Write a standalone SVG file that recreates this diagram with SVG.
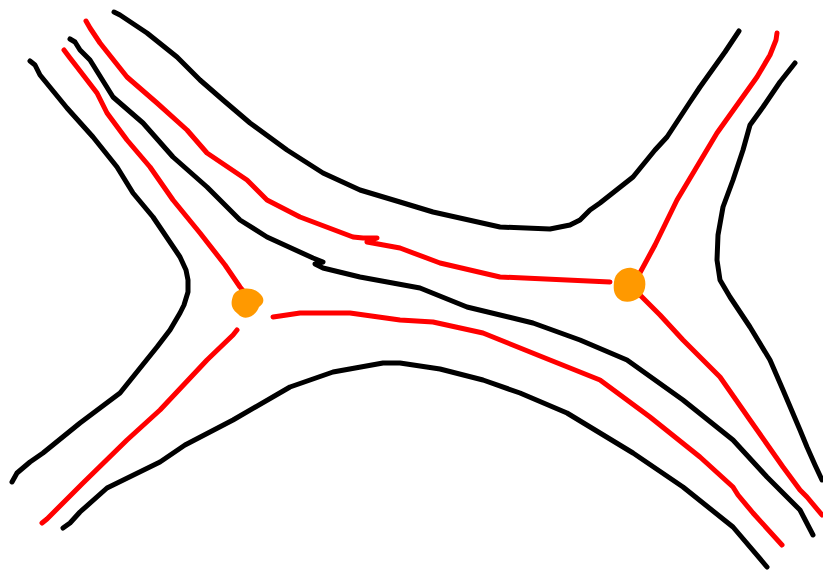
<svg xmlns="http://www.w3.org/2000/svg" width="823" height="570" viewBox="0 0 823 570">
<style>
.k{fill:none;stroke:#000;stroke-width:5;stroke-linecap:round;stroke-linejoin:round}
.r{fill:none;stroke:#ff0000;stroke-width:5;stroke-linecap:round;stroke-linejoin:round}
.o{fill:#ff9900}
</style>
<rect width="823" height="570" fill="#fff"/>
<g id="lines">
<polyline id="blackA" class="k" points="114,12 120,15 147,33 177,57 200,80 223,100 250,123 287,150 323,173 360,190 400,202 433,212 500,227 550,229 570,225 580,220 590,210 600,203 633,177 655,150 667,137 690,102 700,87 725,52 739,31"/>
<polyline id="blackB" class="k" points="30,61 35,65 40,75 67,108 93,137 117,167 133,193 153,217 180,257 186,270 188,280 188,292 184,305 180,313 170,330 157,347 120,393 80,423 43,453 30,462 17,473 12,482"/>
<polyline id="blackC" class="k" points="70,39 75,42 80,50 90,60 113,97 143,123 173,157 207,187 240,220 267,237 313,258 323,262 315,264 323,268 360,277 420,288 467,307 533,323 580,340 627,360 683,400 733,440 767,477 800,510 813,535"/>
<polyline id="blackD" class="k" points="63,528 70,523 80,512 107,488 160,462 185,445 233,420 290,387 333,372 383,363 400,363 440,369 483,380 520,393 567,413 633,453 683,487 733,527 767,567"/>
<polyline id="blackE" class="k" points="795,63 780,82 763,107 750,125 743,150 733,180 723,207 718,235 717,260 720,280 730,297 750,327 770,360 783,390 800,430 807,447 815,465 822,480"/>
<polyline id="redF" class="r" points="64,50 70,58 77,67 97,93 107,113 127,140 150,167 173,200 200,233 225,265 240,287 245,293"/>
<polyline id="redG" class="r" points="86,21 90,28 100,43 127,77 157,103 187,130 207,153 247,180 267,200 300,217 353,237 363,238 377,238 367,242 400,248 440,263 500,277 567,280 610,282"/>
<polyline id="redH" class="r" points="635,282 655,245 677,200 717,133 757,77 770,55 776,40 777,33"/>
<polyline id="redI" class="r" points="273,317 280,316 300,313 350,313 400,320 433,322 483,333 550,360 600,380 650,417 700,457 733,487 738,495 753,513 782,545"/>
<polyline id="redJ" class="r" points="640,295 660,315 683,340 720,377 750,420 783,467 800,490 807,497 822,515"/>
<polyline id="redK" class="r" points="237,330 233,335 207,360 160,410 127,440 83,483 53,513 47,519 42,523"/>
</g>
<g id="junctionLeft">
<path class="o" d="M233,296 C236,288 250,286 258,292 C266,298 264,304 259,307 C256,316 245,322 238,314 C230,308 231,302 233,296 Z"/>
</g>
<g id="junctionRight">
<path class="o" d="M614,282 C615,272 624,267 632,268 C642,270 647,278 645,288 C643,298 632,304 622,301 C614,297 613,290 614,282 Z"/>
</g>
</svg>
